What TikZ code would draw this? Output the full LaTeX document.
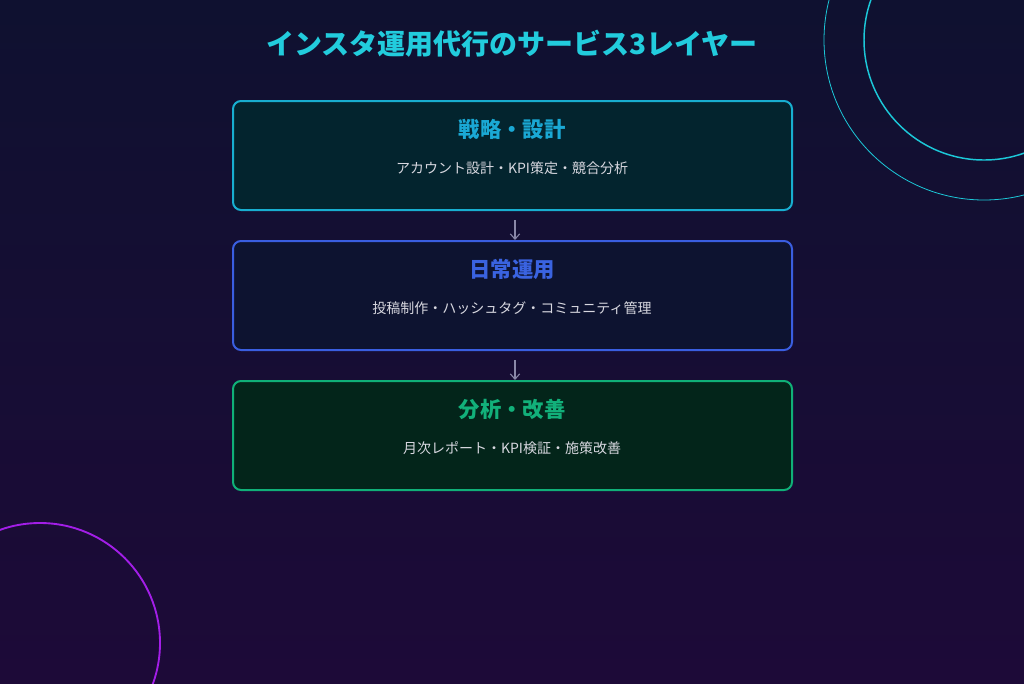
\documentclass[tikz,border=0pt]{standalone}
\usepackage{fontspec}
\setmainfont{Noto Sans CJK JP}
\usetikzlibrary{arrows.meta}
\definecolor{bgtop}{HTML}{0F1130}
\definecolor{bgbot}{HTML}{1D0A38}
\definecolor{titlec}{HTML}{22CCDD}
\definecolor{bOneB}{HTML}{18AED0}
\definecolor{bOneF}{HTML}{03242E}
\definecolor{bOneT}{HTML}{1AA8D4}
\definecolor{bTwoB}{HTML}{3A5EE0}
\definecolor{bTwoF}{HTML}{0D1330}
\definecolor{bTwoT}{HTML}{3A63E0}
\definecolor{bThrB}{HTML}{10B078}
\definecolor{bThrF}{HTML}{03251A}
\definecolor{bThrT}{HTML}{12B07A}
\definecolor{subc}{HTML}{D8D8E0}
\definecolor{arrc}{HTML}{8A88A8}
\definecolor{cyanc}{HTML}{1CC8D8}
\definecolor{purc}{HTML}{A31EE8}
\begin{document}
\begin{tikzpicture}[x=0.75pt,y=-0.75pt,
  layerbox/.style={draw, line width=1.5pt, rounded corners=6pt, minimum width=559*0.75pt, minimum height=109*0.75pt, inner sep=0pt},
  layertitle/.style={font=\fontsize{16}{19}\selectfont\bfseries},
  layersub/.style={font=\fontsize{10.5}{13}\selectfont, text=subc},
  flowarrow/.style={draw=arrc, line width=0.8pt, -{Straight Barb[length=4pt,width=7pt]}}]
\useasboundingbox (0,0) rectangle (1024,683);
\shade[top color=bgtop, bottom color=bgbot] (0,0) rectangle (1024,683);
\begin{scope}
\clip (0,0) rectangle (1024,683);
\draw[cyanc, line width=1.1pt] (984,40) circle[radius=120];
\draw[cyanc, line width=0.6pt] (984,40) circle[radius=160];
\draw[purc, line width=1.4pt] (40,643) circle[radius=120];
\end{scope}
\node[font=\fontsize{21}{25}\selectfont\bfseries, text=titlec] (title) at (512,44) {インスタ運用代行のサービス3レイヤー};
\node[layerbox, draw=bOneB, fill=bOneF] (b1) at (512.5,155.5) {};
\node[layerbox, draw=bTwoB, fill=bTwoF] (b2) at (512.5,295.5) {};
\node[layerbox, draw=bThrB, fill=bThrF] (b3) at (512.5,435.5) {};
\node[layertitle, text=bOneT] (t1) at (512,129) {戦略・設計};
\node[layersub] (s1) at (512,168) {アカウント設計・KPI策定・競合分析};
\node[layertitle, text=bTwoT] (t2) at (512,269) {日常運用};
\node[layersub] (s2) at (512,308) {投稿制作・ハッシュタグ・コミュニティ管理};
\node[layertitle, text=bThrT] (t3) at (512,409) {分析・改善};
\node[layersub] (s3) at (512,448) {月次レポート・KPI検証・施策改善};
\coordinate (a1s) at (515,220);
\coordinate (a1e) at (515,240);
\coordinate (a2s) at (515,360);
\coordinate (a2e) at (515,380);
\draw[flowarrow] (a1s) -- (a1e);
\draw[flowarrow] (a2s) -- (a2e);
\end{tikzpicture}
\end{document}
